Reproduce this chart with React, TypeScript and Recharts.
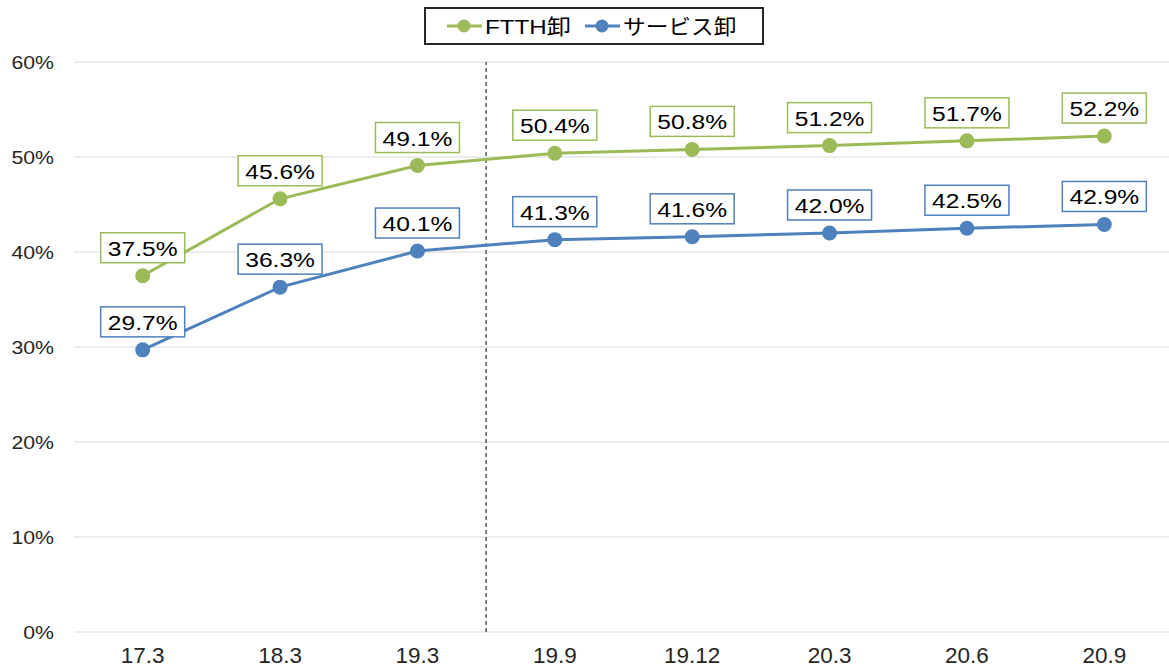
import React from 'react'
import { LineChart, Line, XAxis, YAxis, CartesianGrid, ReferenceLine, LabelList } from 'recharts'

const categories = ['17.3', '18.3', '19.3', '19.9', '19.12', '20.3', '20.6', '20.9']
const ftthValues = [37.5, 45.6, 49.1, 50.4, 50.8, 51.2, 51.7, 52.2]
const serviceValues = [29.7, 36.3, 40.1, 41.3, 41.6, 42.0, 42.5, 42.9]
const yTicks = [0, 10, 20, 30, 40, 50, 60]
const dividerAt = 2.5 // between 19.3 and 19.9

const GREEN = '#9BBB59'
const BLUE = '#4F81BD'
const FONT = '"Liberation Sans", Arial, "Noto Sans CJK JP", sans-serif'

const data = categories.map((name, i) => ({
  idx: i,
  name,
  ftth: ftthValues[i],
  service: serviceValues[i],
}))

const XTick = (props: any) => {
  const { x, y, payload } = props
  return (
    <text
      transform={`translate(${x},${y + 31})`}
      textAnchor="middle"
      fontSize={22.5}
      fontFamily={FONT}
      fill="#262626"
    >
      {categories[payload.value]}
    </text>
  )
}

const YTick = (props: any) => {
  const { x, y, payload } = props
  return (
    <text
      transform={`translate(${x - 20},${y + 6.5}) scale(1.12,1)`}
      textAnchor="end"
      fontSize={19}
      fontFamily={FONT}
      fill="#262626"
    >
      {payload.value}%
    </text>
  )
}

const boxLabel = (color: string) => (props: any) => {
  const { x, y, value } = props
  const w = 84
  const h = 30
  return (
    <g>
      <rect x={x - w / 2} y={y - 43} width={w} height={h} fill="#fff" stroke={color} strokeWidth={1.5} />
      <text
        transform={`translate(${x},${y - 20}) scale(1.2,1)`}
        textAnchor="middle"
        fontSize={20.5}
        fontFamily={FONT}
        fill="#000"
      >
        {value.toFixed(1)}%
      </text>
    </g>
  )
}

const LegendBox = () => (
  <svg width={340} height={38} style={{ display: 'block', position: 'absolute', top: 7, left: 424 }}>
    <rect x={1} y={1} width={338} height={36} fill="#fff" stroke="#262626" strokeWidth={2} />
    <line x1={23} x2={58} y1={19} y2={19} stroke={GREEN} strokeWidth={3} />
    <circle cx={40} cy={19} r={6.5} fill={GREEN} />
    <text transform="translate(61,27) scale(1.15,1)" fontSize={21} fontFamily={FONT} fill="#000">FTTH卸</text>
    <line x1={161} x2={196} y1={19} y2={19} stroke={BLUE} strokeWidth={3} />
    <circle cx={178} cy={19} r={6.5} fill={BLUE} />
    <text transform="translate(199,27) scale(1.08,1)" fontSize={21} fontFamily={FONT} fill="#000">サービス卸</text>
  </svg>
)

export default function App() {
  return (
    <div style={{ position: 'absolute', top: 0, left: 0, width: 1169, height: 671, overflow: 'hidden', background: '#fff' }}>
      <LineChart width={1173} height={671} data={data} margin={{ top: 62, right: 0, bottom: 9, left: 0 }}>
        <CartesianGrid vertical={false} stroke="#d9d9d9" strokeWidth={1} />
        <XAxis
          dataKey="idx"
          type="number"
          domain={[-0.5, categories.length - 0.5]}
          ticks={categories.map((_, i) => i)}
          axisLine={false}
          tickLine={false}
          tickSize={0}
          tickMargin={0}
          height={30}
          tick={<XTick />}
          interval={0}
        />
        <YAxis
          domain={[0, 60]}
          ticks={yTicks}
          axisLine={false}
          tickLine={false}
          tickSize={0}
          tickMargin={0}
          width={74}
          tick={<YTick />}
        />
        <ReferenceLine x={dividerAt} stroke="#595959" strokeWidth={1.5} strokeDasharray="4 3" />
        <Line
          type="linear"
          dataKey="ftth"
          name="FTTH卸"
          stroke={GREEN}
          strokeWidth={3}
          dot={{ r: 7.5, fill: GREEN, stroke: GREEN, strokeWidth: 0 }}
          isAnimationActive={false}
        >
          <LabelList dataKey="ftth" content={boxLabel(GREEN)} />
        </Line>
        <Line
          type="linear"
          dataKey="service"
          name="サービス卸"
          stroke={BLUE}
          strokeWidth={3}
          dot={{ r: 7.5, fill: BLUE, stroke: BLUE, strokeWidth: 0 }}
          isAnimationActive={false}
        >
          <LabelList dataKey="service" content={boxLabel(BLUE)} />
        </Line>
      </LineChart>
      <LegendBox />
    </div>
  )
}
